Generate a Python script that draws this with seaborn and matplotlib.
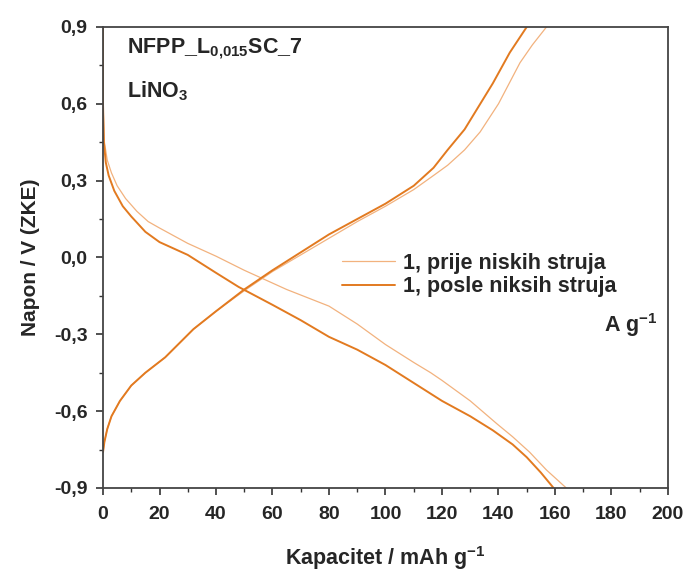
import numpy as np
import pandas as pd
import matplotlib
matplotlib.use("Agg")
import matplotlib.pyplot as plt
from matplotlib.ticker import MultipleLocator, FuncFormatter
import seaborn as sns

# ------------------------------------------------------------
# DATA
# ------------------------------------------------------------
# 1, prije niskih struja  (thin, light)
prije_dis_x = [0, 0, 0.5, 1.5, 3, 5, 8, 12, 16, 20, 30, 40, 50, 55, 65, 80, 90, 100, 110, 116, 120, 130, 139.5, 145, 151, 157, 164]
prije_dis_y = [0.9, 0.6, 0.45, 0.38, 0.33, 0.28, 0.23, 0.18, 0.14, 0.115, 0.055, 0.005, -0.05, -0.075, -0.125, -0.19, -0.26, -0.34, -0.41, -0.45, -0.48, -0.56, -0.65, -0.70, -0.76, -0.83, -0.9]
prije_ch_x = [0, 0.5, 1.5, 3, 6, 10, 15, 22, 32, 40, 50, 60, 70, 80, 90, 100, 110, 117, 122, 128, 133.5, 140, 147.6, 152, 157]
prije_ch_y = [-0.76, -0.72, -0.67, -0.62, -0.56, -0.5, -0.45, -0.39, -0.28, -0.21, -0.13, -0.055, 0.01, 0.075, 0.14, 0.2, 0.265, 0.32, 0.36, 0.42, 0.49, 0.6, 0.76, 0.83, 0.9]

# 1, posle niksih struja  (thick, orange)
posle_dis_x = [0, 0, 0.3, 1, 2, 4, 7, 10, 15, 20, 25, 30, 40, 48, 60, 70, 80, 90, 100, 110, 120, 130, 138, 145, 150, 155, 159.5]
posle_dis_y = [0.9, 0.6, 0.45, 0.37, 0.32, 0.26, 0.2, 0.16, 0.1, 0.06, 0.035, 0.01, -0.06, -0.115, -0.185, -0.245, -0.31, -0.36, -0.42, -0.49, -0.56, -0.62, -0.675, -0.73, -0.78, -0.84, -0.9]
posle_ch_x = [0, 0.5, 1.5, 3, 6, 10, 15, 22, 32, 40, 50, 60, 70, 80, 90, 100, 110, 117, 122, 128, 133, 138, 144, 150]
posle_ch_y = [-0.76, -0.72, -0.67, -0.62, -0.56, -0.5, -0.45, -0.39, -0.28, -0.21, -0.125, -0.05, 0.02, 0.09, 0.15, 0.21, 0.28, 0.35, 0.42, 0.5, 0.59, 0.68, 0.8, 0.9]

labels = ["1, prije niskih struja", "1, posle niksih struja"]

# ------------------------------------------------------------
# STYLE
# ------------------------------------------------------------
sns.set_theme(style="ticks")
plt.rcParams['font.family'] = ['Liberation Sans', 'DejaVu Sans']
plt.rcParams['font.weight'] = 'bold'
plt.rcParams['mathtext.fontset'] = 'custom'
plt.rcParams['mathtext.rm'] = 'Liberation Sans:bold'
plt.rcParams['mathtext.bf'] = 'Liberation Sans:bold'
plt.rcParams['mathtext.default'] = 'bf'

fig = plt.figure(figsize=(6.89, 5.72), dpi=100)
ax = fig.add_axes([0.1495, 0.1469, 0.82, 0.806])

thin_col = '#F2B27E'
thick_col = '#E27A20'

sns.lineplot(x=prije_dis_x, y=prije_dis_y, sort=False, estimator=None, color=thin_col, linewidth=0.9, ax=ax, label=labels[0])
sns.lineplot(x=prije_ch_x, y=prije_ch_y, sort=False, estimator=None, color=thin_col, linewidth=0.9, ax=ax)
sns.lineplot(x=posle_dis_x, y=posle_dis_y, sort=False, estimator=None, color=thick_col, linewidth=1.4, ax=ax, label=labels[1])
sns.lineplot(x=posle_ch_x, y=posle_ch_y, sort=False, estimator=None, color=thick_col, linewidth=1.4, ax=ax)

ax.set_xlim(0, 200)
ax.set_ylim(-0.9, 0.9)
ax.xaxis.set_major_locator(MultipleLocator(20))
ax.xaxis.set_minor_locator(MultipleLocator(10))
ax.yaxis.set_major_locator(MultipleLocator(0.3))
ax.yaxis.set_minor_locator(MultipleLocator(0.15))
ax.yaxis.set_major_formatter(FuncFormatter(lambda v, p: f"{v:.1f}".replace('.', ',').replace('-0,0', '0,0')))

ax.tick_params(which='major', direction='out', length=5, width=1.2, labelsize=14, color='#333333', pad=6)
ax.tick_params(which='minor', direction='out', length=3, width=1, color='#333333')
ax.tick_params(axis='x', which='major', pad=8)
for s in ax.spines.values():
    s.set_color('#444444')
    s.set_linewidth(1.3)

ax.set_xlabel("Kapacitet / mAh g$^{-1}$", fontsize=15.5, fontweight='bold', labelpad=15)
ax.set_ylabel("Napon / V (ZKE)", fontsize=15, fontweight='bold', labelpad=10)

ax.text(0.0425, 0.952, "NFPP_L$_{0{,}015}$SC_7", transform=ax.transAxes, fontsize=15.5, fontweight='bold', va='center', ha='left')
ax.text(0.0425, 0.861, "LiNO$_{3}$", transform=ax.transAxes, fontsize=15.5, fontweight='bold', va='center', ha='left')

ax.legend(loc='upper left', bbox_to_anchor=(0.423, 0.51), frameon=False, fontsize=15.5,
          handlelength=2.45, handletextpad=0.37, labelspacing=0.12, borderpad=0, borderaxespad=0)
ax.text(0.982, 0.354, "A g$^{-1}$", transform=ax.transAxes, fontsize=15.5, fontweight='bold', va='center', ha='right')

fig.savefig("out.png", dpi=100)
